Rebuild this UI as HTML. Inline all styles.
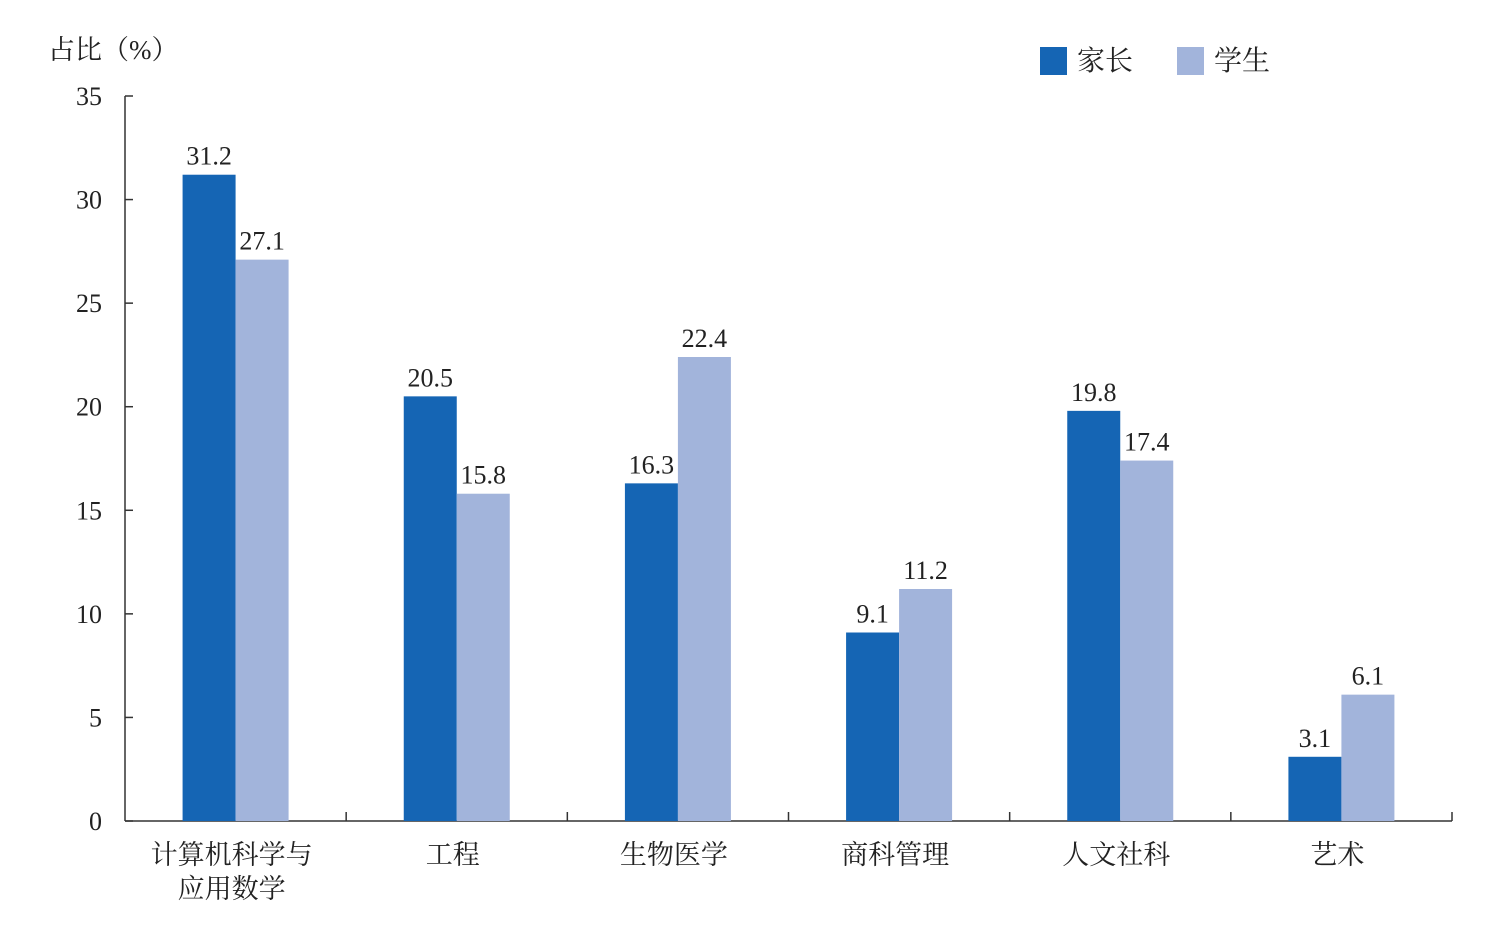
<!DOCTYPE html>
<html><head><meta charset="utf-8">
<style>
html,body{margin:0;padding:0;background:#fff;}
svg text{font-family:"Liberation Serif","Noto Serif CJK SC",serif;fill:#222;}
</style></head>
<body>
<svg width="1500" height="931" viewBox="0 0 1500 931" xmlns="http://www.w3.org/2000/svg">
<g id="chart"></g>
</svg>
<script>
const categories = [["计算机科学与","应用数学"],["工程"],["生物医学"],["商科管理"],["人文社科"],["艺术"]];
const parentValues = [31.2, 20.5, 16.3, 9.1, 19.8, 3.1];
const studentValues = [27.1, 15.8, 22.4, 11.2, 17.4, 6.1];
const yTicks = [0,5,10,15,20,25,30,35];

const NS="http://www.w3.org/2000/svg";
const g=document.getElementById('chart');
const x0=125,x1=1452,yBase=821,yTop=96,yMax=35;
const band=(x1-x0)/categories.length, bw=53;
function y(v){return yBase-(v/yMax)*(yBase-yTop);}
function xc(i){return x0+band*(i+0.5);}
function mk(tag,attrs,text){const e=document.createElementNS(NS,tag);for(const k in attrs)e.setAttribute(k,attrs[k]);if(text!==undefined)e.textContent=text;g.appendChild(e);return e;}

// axes
let e=mk('line',{x1:x0,y1:yTop,x2:x0,y2:yBase,stroke:'#333','stroke-width':1.5});


e=mk('line',{x1:x0,y1:yBase,x2:x1,y2:yBase,stroke:'#333','stroke-width':1.5});



yTicks.forEach(t=>{
  const l=mk('line',{x1:x0,y1:y(t),x2:x0+8,y2:y(t),stroke:'#333','stroke-width':1.5});
  
  
  const tx=mk('text',{x:102,y:y(t)+9,'text-anchor':'end','font-size':26},String(t));
  
  
});
for(let i=1;i<=categories.length;i++){
  const xx=x0+band*i;
  const l=mk('line',{x1:xx,y1:yBase,x2:xx,y2:yBase-9,stroke:'#333','stroke-width':1.5});
  
  
}
categories.forEach((c,i)=>{
  const cx=xc(i);
  const b1=mk('rect',{x:cx-bw,y:y(parentValues[i]),width:bw,height:yBase-y(parentValues[i]),fill:'#1565B4'});
  
  
  const b2=mk('rect',{x:cx,y:y(studentValues[i]),width:bw,height:yBase-y(studentValues[i]),fill:'#A2B4DB'});
  
  
  const v1=mk('text',{x:cx-bw/2,y:y(parentValues[i])-10,'text-anchor':'middle','font-size':26},parentValues[i].toFixed(1));
  
  
  const v2=mk('text',{x:cx+bw/2,y:y(studentValues[i])-10,'text-anchor':'middle','font-size':26},studentValues[i].toFixed(1));
  
  
  c.forEach((line,j)=>{
    const t=mk('text',{x:cx-4,y:864+j*34,'text-anchor':'middle','font-size':27},line);
    
    
  });
});
e=mk('text',{x:48,y:59,'font-size':27},'占比（%）');


e=mk('rect',{x:1040,y:47,width:27,height:28,fill:'#1565B4'});


e=mk('text',{x:1077,y:70,'font-size':28},'家长');


e=mk('rect',{x:1177,y:47,width:27,height:28,fill:'#A2B4DB'});


e=mk('text',{x:1214,y:70,'font-size':28},'学生');


</script>
</body></html>
